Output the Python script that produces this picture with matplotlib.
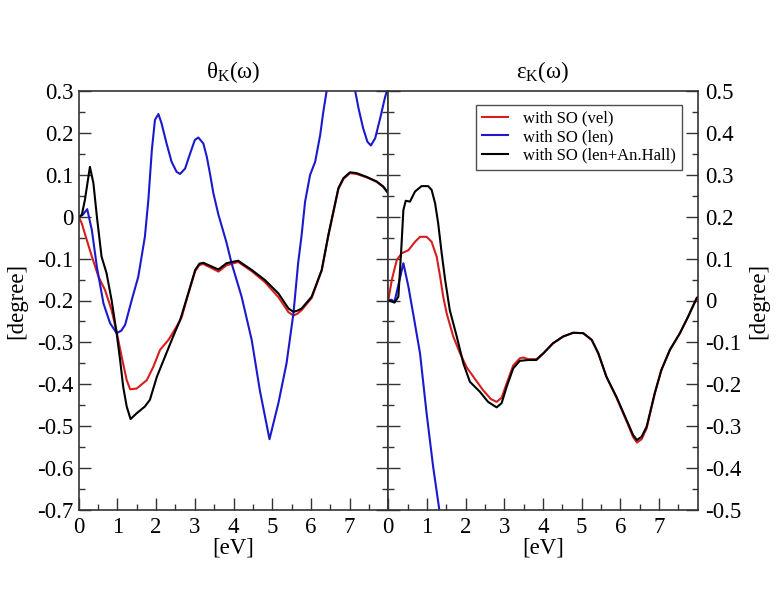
import matplotlib
matplotlib.use("Agg")
import matplotlib.pyplot as plt
from matplotlib.ticker import FixedLocator, FixedFormatter, MultipleLocator

plt.rcParams['font.family'] = ['Liberation Serif', 'DejaVu Serif']
plt.rcParams['mathtext.fontset'] = 'custom'
plt.rcParams['mathtext.rm'] = 'Liberation Serif'
plt.rcParams['mathtext.it'] = 'Liberation Serif'

# ---------------- data ----------------
labels = ["with SO (vel)", "with SO (len)", "with SO (len+An.Hall)"]
colors = ["#d61e1e", "#1a1acc", "#000000"]

# theta_K (left panel)
th_vel_x = [0, 0.08, 0.21, 0.34, 0.51, 0.68, 0.85, 0.98, 1.11, 1.24, 1.33, 1.50, 1.76, 1.93, 2.10, 2.32, 2.53,
            2.66, 2.83, 3.01, 3.12, 3.22, 3.44, 3.61, 3.82, 4.12, 4.47, 4.81, 5.16, 5.42, 5.55, 5.66, 5.76, 6.02,
            6.28, 6.45, 6.58, 6.71, 6.84, 7.01, 7.18, 7.44, 7.70, 7.87, 8.0]
th_vel_y = [0, -0.016, -0.056, -0.095, -0.143, -0.175, -0.223, -0.275, -0.334, -0.39, -0.412, -0.41, -0.39,
            -0.358, -0.318, -0.294, -0.262, -0.24, -0.185, -0.13, -0.115, -0.113, -0.123, -0.131, -0.116, -0.108,
            -0.13, -0.156, -0.192, -0.228, -0.236, -0.231, -0.223, -0.194, -0.128, -0.046, 0.01, 0.066, 0.09,
            0.104, 0.102, 0.094, 0.083, 0.071, 0.055]

th_len_x = [0, 0.1, 0.22, 0.34, 0.47, 0.64, 0.81, 0.98, 1.10, 1.20, 1.37, 1.54, 1.71, 1.80, 1.89, 1.97, 2.06,
            2.14, 2.27, 2.40, 2.53, 2.62, 2.75, 2.88, 3.00, 3.09, 3.22, 3.31, 3.39, 3.48, 3.61, 3.82, 3.95, 4.21,
            4.47, 4.68, 4.93, 5.16, 5.37, 5.55, 5.67, 5.76, 5.85, 5.98, 6.11, 6.24, 6.32, 6.41, 6.6, 6.8, 7.0,
            7.14, 7.23, 7.35, 7.46, 7.55, 7.66, 7.79, 7.91, 7.97, 8.0]
th_len_y = [0, 0.004, 0.018, -0.032, -0.12, -0.207, -0.254, -0.278, -0.272, -0.258, -0.199, -0.143, -0.048,
            0.040, 0.159, 0.231, 0.245, 0.223, 0.175, 0.131, 0.107, 0.102, 0.115, 0.151, 0.183, 0.189, 0.175,
            0.143, 0.104, 0.056, 0.005, -0.062, -0.111, -0.191, -0.294, -0.414, -0.531, -0.445, -0.35, -0.23,
            -0.111, -0.044, 0.036, 0.1, 0.131, 0.195, 0.25, 0.302, 0.42, 0.46, 0.40, 0.302, 0.259, 0.211, 0.179,
            0.17, 0.187, 0.235, 0.283, 0.302, 0.32]

th_hall_x = [0, 0.08, 0.16, 0.29, 0.38, 0.47, 0.59, 0.72, 0.85, 0.98, 1.07, 1.15, 1.24, 1.34, 1.50, 1.71, 1.84,
             2.02, 2.23, 2.44, 2.62, 2.83, 3.01, 3.12, 3.22, 3.44, 3.61, 3.82, 4.12, 4.47, 4.81, 5.16, 5.42, 5.55,
             5.66, 5.76, 6.02, 6.28, 6.45, 6.58, 6.71, 6.84, 7.01, 7.18, 7.44, 7.70, 7.87, 8.0]
th_hall_y = [0, 0.004, 0.04, 0.119, 0.08, 0, -0.095, -0.135, -0.199, -0.278, -0.342, -0.406, -0.453, -0.483,
             -0.469, -0.453, -0.437, -0.382, -0.334, -0.286, -0.247, -0.183, -0.127, -0.112, -0.11, -0.119,
             -0.126, -0.111, -0.105, -0.127, -0.151, -0.183, -0.219, -0.227, -0.224, -0.219, -0.191, -0.127,
             -0.044, 0.012, 0.068, 0.092, 0.106, 0.104, 0.095, 0.084, 0.072, 0.056]

# epsilon_K (right panel)
ep_vel_x = [0, 0.09, 0.22, 0.35, 0.52, 0.69, 0.82, 0.99, 1.12, 1.25, 1.34, 1.42, 1.51, 1.68, 1.85, 2.03, 2.20,
            2.45, 2.65, 2.80, 2.93, 3.06, 3.23, 3.40, 3.49, 3.62, 3.83, 4.01, 4.26, 4.52, 4.78, 5.04, 5.26, 5.43,
            5.64, 5.90, 6.16, 6.33, 6.43, 6.55, 6.68, 6.89, 7.06, 7.28, 7.54, 7.75, 7.97, 8.0]
ep_vel_y = [0, 0.049, 0.097, 0.113, 0.12, 0.14, 0.152, 0.152, 0.14, 0.105, 0.057, 0.009, -0.031, -0.086, -0.125,
            -0.16, -0.182, -0.214, -0.235, -0.242, -0.232, -0.198, -0.155, -0.138, -0.136, -0.14, -0.14, -0.126,
            -0.102, -0.086, -0.077, -0.078, -0.094, -0.126, -0.182, -0.232, -0.288, -0.326, -0.339, -0.331,
            -0.305, -0.222, -0.166, -0.118, -0.078, -0.039, 0.005, 0.008]

ep_len_x = [0, 0.08, 0.16, 0.39, 0.52, 0.65, 0.82, 0.99, 1.16, 1.32, 1.5]
ep_len_y = [0, 0.002, -0.003, 0.089, 0.033, -0.035, -0.126, -0.269, -0.397, -0.5, -0.62]

ep_hall_x = [0, 0.08, 0.16, 0.26, 0.33, 0.39, 0.45, 0.56, 0.69, 0.86, 1.03, 1.12, 1.21, 1.29, 1.38, 1.47, 1.59,
             1.77, 1.94, 2.11, 2.37, 2.58, 2.80, 2.93, 3.06, 3.23, 3.40, 3.62, 3.83, 4.01, 4.26, 4.52, 4.78, 5.04,
             5.26, 5.43, 5.64, 5.90, 6.16, 6.33, 6.43, 6.55, 6.68, 6.89, 7.06, 7.28, 7.54, 7.75, 7.97, 8.0]
ep_hall_y = [0, -0.002, -0.005, 0.009, 0.113, 0.216, 0.238, 0.236, 0.26, 0.273, 0.273, 0.264, 0.232, 0.184, 0.113,
             0.049, -0.023, -0.086, -0.15, -0.194, -0.218, -0.242, -0.255, -0.245, -0.206, -0.162, -0.144, -0.142,
             -0.142, -0.126, -0.102, -0.086, -0.077, -0.078, -0.094, -0.126, -0.182, -0.23, -0.285, -0.321,
             -0.333, -0.325, -0.301, -0.221, -0.166, -0.118, -0.078, -0.039, 0.005, 0.008]

x_ticks = [0, 1, 2, 3, 4, 5, 6, 7]
x_ticklabels = ["0", "1", "2", "3", "4", "5", "6", "7"]
left_yticks = [0.3, 0.2, 0.1, 0.0, -0.1, -0.2, -0.3, -0.4, -0.5, -0.6, -0.7]
left_yticklabels = ["0.3", "0.2", "0.1", "0", "-0.1", "-0.2", "-0.3", "-0.4", "-0.5", "-0.6", "-0.7"]
right_yticks = [0.5, 0.4, 0.3, 0.2, 0.1, 0.0, -0.1, -0.2, -0.3, -0.4, -0.5]
right_yticklabels = ["0.5", "0.4", "0.3", "0.2", "0.1", "0", "-0.1", "-0.2", "-0.3", "-0.4", "-0.5"]

# ---------------- figure ----------------
fig = plt.figure(figsize=(7.76, 6.0), dpi=100)
W, H = 776, 600
ax1 = fig.add_axes([78.7 / W, (600 - 510) / H, 309.6 / W, 419 / H])
ax2 = fig.add_axes([388.3 / W, (600 - 510) / H, 309.4 / W, 419 / H])

lw = 1.5
ax1.plot(th_vel_x, th_vel_y, color=colors[0], lw=lw)
ax1.plot(th_len_x, th_len_y, color=colors[1], lw=lw)
ax1.plot(th_hall_x, th_hall_y, color=colors[2], lw=lw)

l1, = ax2.plot(ep_vel_x, ep_vel_y, color=colors[0], lw=lw)
l2, = ax2.plot(ep_len_x, ep_len_y, color=colors[1], lw=lw)
l3, = ax2.plot(ep_hall_x, ep_hall_y, color=colors[2], lw=lw)

ax1.set_xlim(0, 8)
ax1.set_ylim(-0.7, 0.3)
ax2.set_xlim(0, 8)
ax2.set_ylim(-0.5, 0.5)

spine_col = '#333333'
for ax, yt, ytl in [(ax1, left_yticks, left_yticklabels), (ax2, right_yticks, right_yticklabels)]:
    ax.xaxis.set_major_locator(FixedLocator(x_ticks))
    ax.xaxis.set_major_formatter(FixedFormatter(x_ticklabels))
    ax.xaxis.set_minor_locator(FixedLocator([i + 0.5 for i in range(8)]))
    ax.yaxis.set_major_locator(FixedLocator(yt))
    ax.yaxis.set_major_formatter(FixedFormatter(ytl))
    ax.yaxis.set_minor_locator(MultipleLocator(0.05))
    ax.tick_params(which='both', direction='in', top=False, bottom=True, left=True, right=True,
                   color=spine_col, width=1.0, labelsize=16.5)
    ax.tick_params(which='major', length=8.6)
    ax.tick_params(which='minor', length=4.3)
    ax.tick_params(axis='x', pad=5)
    for s in ax.spines.values():
        s.set_color(spine_col)
        s.set_linewidth(1.2)
    ax.set_xlabel("[eV]", fontsize=16.5)
    ax.xaxis.set_label_coords(0.5, -0.066)

ax1.tick_params(axis='y', labelleft=True, labelright=False, pad=4)
ax2.tick_params(axis='y', labelleft=False, labelright=True, pad=5)

ax1.set_ylabel("[degree]", fontsize=16.5)
ax1.yaxis.set_label_coords(-0.167, 0.5)
ax2.yaxis.set_label_position('right')
ax2.set_ylabel("[degree]", fontsize=16.5, rotation=90)
ax2.yaxis.set_label_coords(1.163, 0.5)

ax1.set_title(r"θ$_\mathrm{K}$(ω)", fontsize=16.5, pad=9)
ax2.set_title(r"ε$_\mathrm{K}$(ω)", fontsize=16.5, pad=9)

leg = ax2.legend([l1, l2, l3], labels, loc='upper right', bbox_to_anchor=(0.949, 0.9666),
                 borderaxespad=0, fontsize=12, frameon=True, fancybox=False, handlelength=1.6,
                 handletextpad=0.9, labelspacing=0.15, borderpad=0.35)
leg.get_frame().set_edgecolor('#222222')
leg.get_frame().set_linewidth(1.0)

fig.savefig("out.png", dpi=100, facecolor='white')
